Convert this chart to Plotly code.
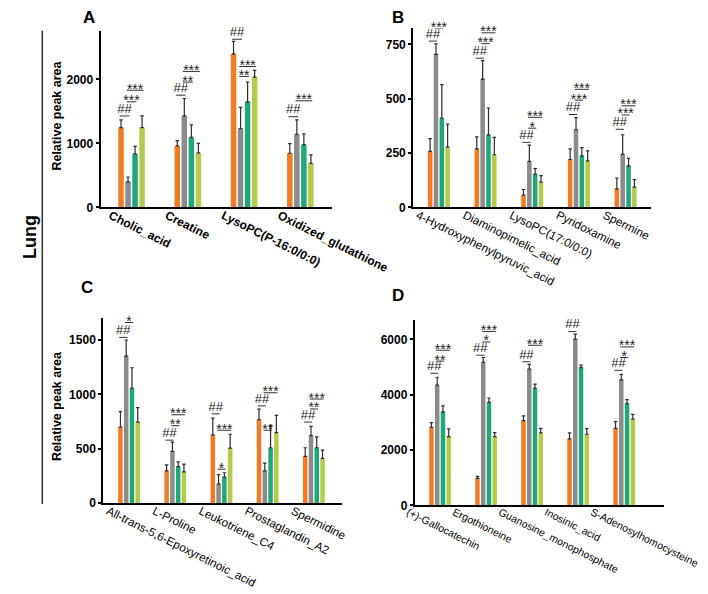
import plotly.graph_objects as go

# ---------------- data ----------------
SERIES_COLORS = ["#F37B22", "#8B8B8B", "#1FA67A", "#B3CB4B"]

A_CATS = ["Cholic_acid", "Creatine", "LysoPC(P-16:0/0:0)", "Oxidized_glutathione"]
A_ORANGE = [1247, 959, 2397, 845]
A_GRAY = [397, 1428, 1232, 1139]
A_TEAL = [835, 1093, 1649, 979]
A_LGREEN = [1247, 851, 2036, 686]
A_ORANGE_ERR = [119, 82, 196, 150]
A_GRAY_ERR = [77, 273, 330, 227]
A_TEAL_ERR = [119, 196, 310, 170]
A_LGREEN_ERR = [181, 149, 103, 134]
A_SIG = [(0, "##", 0, 1, 1428), (0, "***", 1, 2, 1649), (0, "***", 1, 3, 1830),
         (1, "##", 0, 1, 1753), (1, "**", 1, 2, 1958), (1, "***", 1, 3, 2124),
         (2, "##", 0, 1, 2627), (2, "**", 1, 2, 2046), (2, "***", 1, 3, 2201),
         (3, "##", 0, 1, 1417), (3, "***", 1, 3, 1665)]

B_CATS = ["4-Hydroxyphenylpyruvic_acid", "Diaminopimelic_acid", "LysoPC(17:0/0:0)",
          "Pyridoxamine", "Spermine"]
B_ORANGE = [257, 269, 56, 220, 85]
B_GRAY = [704, 590, 211, 357, 245]
B_TEAL = [410, 333, 153, 237, 191]
B_LGREEN = [277, 242, 116, 214, 93]
B_ORANGE_ERR = [59, 55, 26, 49, 50]
B_GRAY_ERR = [48, 85, 75, 56, 89]
B_TEAL_ERR = [155, 124, 25, 38, 34]
B_LGREEN_ERR = [106, 80, 30, 46, 35]
B_SIG = [(0, "##", 0, 1, 765), (0, "***", 1, 2, 823), (0, "***", 1, 3, 879),
         (1, "##", 0, 1, 686), (1, "***", 1, 2, 753), (1, "***", 1, 3, 803),
         (2, "##", 0, 1, 299), (2, "*", 1, 2, 364), (2, "***", 1, 3, 414),
         (3, "##", 0, 1, 427), (3, "***", 1, 2, 493), (3, "***", 1, 3, 543),
         (4, "##", 0, 1, 359), (4, "***", 1, 2, 425), (4, "***", 1, 3, 467)]

C_CATS = ["All-trans-5,6-Epoxyretinoic_acid", "L-Proline", "Leukotriene_C4",
          "Prostaglandin_A2", "Spermidine"]
C_ORANGE = [700, 297, 627, 767, 430]
C_GRAY = [1352, 476, 176, 297, 621]
C_TEAL = [1055, 336, 239, 509, 509]
C_LGREEN = [745, 288, 506, 648, 412]
C_ORANGE_ERR = [142, 55, 155, 97, 79]
C_GRAY_ERR = [148, 85, 85, 70, 85]
C_TEAL_ERR = [190, 43, 40, 206, 100]
C_LGREEN_ERR = [134, 70, 127, 158, 76]
C_SIG = [(0, "##", 0, 1, 1524), (0, "*", 1, 2, 1661), (0, "***", 1, 3, 1767),
         (1, "##", 0, 1, 579), (1, "**", 1, 2, 712), (1, "***", 1, 3, 812),
         (2, "##", 0, 1, 821), (2, "*", 1, 2, 312), (2, "***", 1, 3, 670),
         (3, "##", 0, 1, 894), (3, "**", 1, 2, 670), (3, "***", 1, 3, 1015),
         (4, "##", 0, 1, 745), (4, "**", 1, 2, 866), (4, "***", 1, 3, 957)]

D_CATS = ["(+)-Gallocatechin", "Ergothioneine", "Guanosine_monophosphate",
          "Inosinic_acid", "S-Adenosylhomocysteine"]
D_ORANGE = [2821, 976, 3060, 2405, 2786]
D_GRAY = [4345, 5167, 4929, 6012, 4536]
D_TEAL = [3381, 3726, 4226, 4976, 3679]
D_LGREEN = [2488, 2488, 2619, 2571, 3119]
D_ORANGE_ERR = [167, 72, 178, 214, 238]
D_GRAY_ERR = [286, 178, 166, 178, 202]
D_TEAL_ERR = [214, 155, 155, 95, 142]
D_LGREEN_ERR = [274, 143, 167, 203, 167]
D_SIG = [(0, "##", 0, 1, 4774), (0, "**", 1, 2, 5214), (0, "***", 1, 3, 5607),
         (1, "##", 0, 1, 5429), (1, "*", 1, 2, 5905), (1, "***", 1, 3, 6286),
         (2, "##", 0, 1, 5190), (2, "***", 1, 3, 5786),
         (3, "##", 0, 1, 6280), (3, "***", 1, 3, 6900),
         (4, "##", 0, 1, 4881), (4, "*", 1, 2, 5345), (4, "***", 1, 3, 5726)]

A_YTICKS = [0, 1000, 2000]
B_YTICKS = [0, 250, 500, 750]
C_YTICKS = [0, 500, 1000, 1500]
D_YTICKS = [0, 2000, 4000, 6000]

# ---------------- layout constants ----------------
W_REF, H = 708, 594          # reference picture size (positions below are in these px)
W = 756                      # figure width
K = W / W_REF
FONT = "Arial, Liberation Sans, sans-serif"
BARGAP = 0.5
SLOT = (1 - BARGAP) / 4.0
TICKANGLE = 26.5

panels = [
    dict(cats=A_CATS, vals=[A_ORANGE, A_GRAY, A_TEAL, A_LGREEN],
         errs=[A_ORANGE_ERR, A_GRAY_ERR, A_TEAL_ERR, A_LGREEN_ERR], sig=A_SIG,
         yticks=A_YTICKS, px=(85, 323), py=(23, 201.7), xr=[-0.55, 3.56], ymax=2760,
         bold=True, fsize=12, shift=-20),
    dict(cats=B_CATS, vals=[B_ORANGE, B_GRAY, B_TEAL, B_LGREEN],
         errs=[B_ORANGE_ERR, B_GRAY_ERR, B_TEAL_ERR, B_LGREEN_ERR], sig=B_SIG,
         yticks=B_YTICKS, px=(406.7, 651.7), py=(20.7, 201.7), xr=[-0.55, 4.55], ymax=823,
         bold=False, fsize=11.7, shift=-20),
    dict(cats=C_CATS, vals=[C_ORANGE, C_GRAY, C_TEAL, C_LGREEN],
         errs=[C_ORANGE_ERR, C_GRAY_ERR, C_TEAL_ERR, C_LGREEN_ERR], sig=C_SIG,
         yticks=C_YTICKS, px=(87.7, 333), py=(313.3, 501), xr=[-0.56, 4.6], ymax=1706,
         bold=False, fsize=11.7, shift=-20),
    dict(cats=D_CATS, vals=[D_ORANGE, D_GRAY, D_TEAL, D_LGREEN],
         errs=[D_ORANGE_ERR, D_GRAY_ERR, D_TEAL_ERR, D_LGREEN_ERR], sig=D_SIG,
         yticks=D_YTICKS, px=(408.3, 665), py=(316, 503.3), xr=[-0.55, 4.87], ymax=6690,
         bold=False, fsize=10.5, shift=-30),
]

fig = go.Figure()
layout = {}

for p_i, p in enumerate(panels):
    sfx = "" if p_i == 0 else str(p_i + 1)
    xa, ya = "x" + sfx, "y" + sfx
    xs = list(range(len(p["cats"])))
    for s in range(4):
        fig.add_trace(go.Bar(
            x=xs, y=p["vals"][s], xaxis=xa, yaxis=ya,
            marker=dict(color=SERIES_COLORS[s], line=dict(width=0)),
            error_y=dict(type="data", symmetric=False, array=p["errs"][s],
                         arrayminus=[0] * len(xs), color="#2b2b2b",
                         thickness=1.2, width=1.7),
            showlegend=False, hoverinfo="skip"))

    # significance brackets
    lx, ly = [], []
    hx, hy, ht = [], [], []
    sx, sy, st = [], [], []
    for (k, lab, i, j, lev) in p["sig"]:
        x0 = k + (i - 1.5) * SLOT - 0.025
        x1 = k + (j - 1.5) * SLOT + 0.025
        lx += [x0, x1, None]
        ly += [lev, lev, None]
        if lab == "##":
            hx.append((x0 + x1) / 2); hy.append(lev); ht.append(lab)
        else:
            sx.append((x0 + x1) / 2); sy.append(lev); st.append(lab)
    fig.add_trace(go.Scatter(x=lx, y=ly, mode="lines", xaxis=xa, yaxis=ya,
                             line=dict(color="#333333", width=1), cliponaxis=False,
                             showlegend=False, hoverinfo="skip"))
    fig.add_trace(go.Scatter(x=hx, y=hy, text=ht, mode="text", xaxis=xa, yaxis=ya,
                             textposition="top center", cliponaxis=False,
                             textfont=dict(family=FONT, size=13, color="#222222"),
                             showlegend=False, hoverinfo="skip"))
    fig.add_trace(go.Scatter(x=sx, y=sy, text=st, mode="text", xaxis=xa, yaxis=ya,
                             textposition="middle center", cliponaxis=False,
                             textfont=dict(family=FONT, size=14, color="#222222"),
                             showlegend=False, hoverinfo="skip"))

    layout["xaxis" + sfx] = dict(
        domain=[p["px"][0] / W_REF, p["px"][1] / W_REF], anchor=ya, range=p["xr"],
        tickmode="array", tickvals=xs, ticktext=p["cats"], tickangle=TICKANGLE,
        ticklabelshift=int(round(p["shift"] * K)), ticklabelstandoff=-5, ticks="",
        showline=True, linewidth=2, linecolor="black", showgrid=False, zeroline=False,
        fixedrange=True,
        tickfont=dict(family=FONT, size=p["fsize"], color="black",
                      weight="bold" if p["bold"] else "normal"))
    layout["yaxis" + sfx] = dict(
        domain=[1 - p["py"][1] / H, 1 - p["py"][0] / H], anchor=xa,
        range=[0, p["ymax"]], tickmode="array", tickvals=p["yticks"],
        ticks="outside", ticklen=3, tickwidth=1.5, tickcolor="black",
        showline=True, linewidth=2, linecolor="black", showgrid=False,
        zeroline=False, fixedrange=True,
        tickfont=dict(family=FONT, size=12, color="black", weight="bold"))

annotations = []
def paper_ann(text, x, y, size, angle=0, bold=True):
    annotations.append(dict(text=text, x=x / W_REF, y=1 - y / H, xref="paper", yref="paper",
                            xanchor="center", yanchor="middle", showarrow=False,
                            textangle=angle,
                            font=dict(family=FONT, size=size, color="black",
                                      weight="bold" if bold else "normal")))

paper_ann("A", 73, 10, 17)
paper_ann("B", 391, 10, 17)
paper_ann("C", 71, 283, 17)
paper_ann("D", 391, 291, 17)
paper_ann("Relative peak area", 40, 109, 12.5, angle=-90)
paper_ann("Relative peak area", 40, 403, 12.5, angle=-90)
paper_ann("Lung", 13, 232, 18, angle=-90)

fig.update_layout(
    width=W, height=H, margin=dict(l=0, r=0, t=0, b=0),
    paper_bgcolor="white", plot_bgcolor="white",
    barmode="group", bargap=BARGAP, bargroupgap=0.22,
    annotations=annotations,
    shapes=[dict(type="line", xref="paper", yref="paper",
                 x0=25 / W_REF, x1=25 / W_REF, y0=1 - 23 / H, y1=1 - 502 / H,
                 line=dict(color="#333333", width=1.5))],
    font=dict(family=FONT),
    **layout)

fig.write_html("out.html")
